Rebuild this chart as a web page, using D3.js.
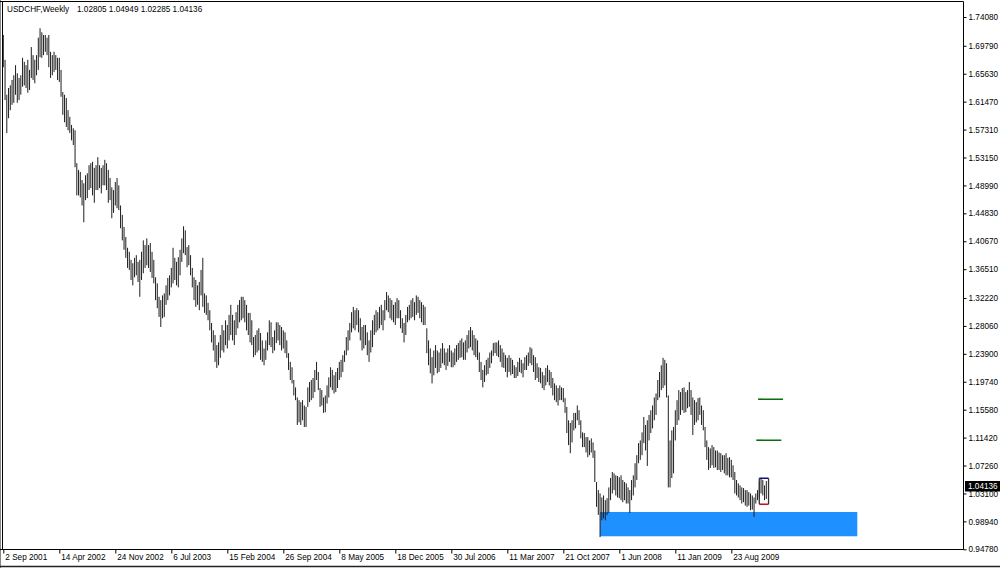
<!DOCTYPE html>
<html><head><meta charset="utf-8">
<script src="https://cdn.jsdelivr.net/npm/d3@7"></script>
<style>html,body{margin:0;padding:0;background:#fff;overflow:hidden}</style>
</head><body><svg id="c" width="1000" height="568"></svg>
<script>
// ---------- DATA ----------
const symbolName = "USDCHF,Weekly";
const lastOHLC = [1.02805, 1.04949, 1.02285, 1.04136];
const firstWeek = "2 Sep 2001";
const highs = [
1.714,1.677,1.625,1.635,1.639,1.647,1.654,1.669,1.657,1.650,
1.654,1.680,1.674,1.669,1.677,1.662,1.696,1.684,1.677,1.684,
1.710,1.724,1.718,1.714,1.714,1.710,1.714,1.689,1.684,1.689,
1.684,1.680,1.680,1.662,1.629,1.625,1.620,1.602,1.592,1.580,
1.575,1.572,1.523,1.513,1.510,1.498,1.493,1.505,1.508,1.520,
1.523,1.525,1.516,1.520,1.532,1.520,1.516,1.520,1.528,1.523,
1.513,1.501,1.487,1.483,1.495,1.501,1.490,1.460,1.446,1.428,
1.413,1.397,1.391,1.379,1.374,1.382,1.386,1.376,1.379,1.391,
1.408,1.401,1.411,1.401,1.404,1.391,1.379,1.353,1.344,1.324,
1.319,1.326,1.329,1.341,1.352,1.356,1.367,1.397,1.382,1.376,
1.383,1.394,1.411,1.429,1.423,1.398,1.401,1.386,1.367,1.353,
1.349,1.341,1.346,1.364,1.382,1.329,1.326,1.315,1.304,1.285,
1.274,1.267,1.252,1.256,1.267,1.282,1.274,1.289,1.282,1.297,
1.312,1.297,1.289,1.301,1.312,1.319,1.324,1.324,1.319,1.312,
1.300,1.300,1.289,1.264,1.267,1.274,1.277,1.270,1.259,1.247,
1.259,1.271,1.289,1.286,1.264,1.274,1.286,1.286,1.282,1.279,
1.274,1.271,1.259,1.240,1.227,1.219,1.200,1.189,1.174,1.170,
1.167,1.170,1.162,1.160,1.189,1.197,1.200,1.203,1.215,1.227,
1.212,1.188,1.185,1.174,1.177,1.192,1.204,1.219,1.215,1.207,
1.212,1.218,1.227,1.230,1.237,1.244,1.264,1.274,1.285,1.301,
1.309,1.304,1.307,1.304,1.292,1.279,1.282,1.282,1.271,1.259,
1.274,1.289,1.297,1.304,1.301,1.309,1.312,1.304,1.319,1.331,
1.326,1.322,1.319,1.312,1.316,1.322,1.319,1.304,1.292,1.285,
1.297,1.309,1.312,1.319,1.322,1.316,1.326,1.324,1.319,1.316,
1.312,1.309,1.277,1.259,1.247,1.234,1.244,1.252,1.244,1.241,
1.247,1.255,1.247,1.241,1.247,1.252,1.244,1.241,1.247,1.252,
1.255,1.259,1.262,1.256,1.259,1.267,1.274,1.279,1.274,1.267,
1.262,1.259,1.241,1.227,1.215,1.222,1.230,1.233,1.241,1.244,
1.255,1.256,1.256,1.259,1.252,1.247,1.241,1.237,1.233,1.237,
1.233,1.230,1.222,1.219,1.227,1.233,1.230,1.225,1.234,1.237,
1.241,1.249,1.247,1.237,1.234,1.225,1.219,1.218,1.212,1.207,
1.218,1.222,1.215,1.212,1.203,1.195,1.192,1.188,1.192,1.189,
1.188,1.173,1.160,1.140,1.136,1.140,1.151,1.151,1.162,1.155,
1.140,1.122,1.121,1.115,1.115,1.110,1.113,1.107,1.095,1.048,
1.036,1.031,1.025,1.028,1.021,1.024,1.040,1.054,1.063,1.061,
1.058,1.057,1.055,1.058,1.051,1.048,1.046,1.040,1.036,1.051,
1.058,1.076,1.088,1.106,1.110,1.122,1.145,1.133,1.140,1.148,
1.155,1.162,1.174,1.180,1.200,1.212,1.222,1.233,1.230,1.225,
1.177,1.110,1.125,1.130,1.155,1.170,1.185,1.182,1.188,1.189,
1.182,1.185,1.197,1.185,1.174,1.170,1.167,1.173,1.174,1.162,
1.155,1.130,1.110,1.100,1.098,1.103,1.100,1.095,1.095,1.092,
1.091,1.088,1.088,1.091,1.084,1.085,1.081,1.073,1.063,1.051,
1.046,1.043,1.040,1.039,1.036,1.036,1.033,1.031,1.028,1.025,
1.031,1.036,1.048,1.054,1.051,1.043,1.04949];
const lows = [
1.666,1.617,1.568,1.590,1.602,1.610,1.613,1.625,1.613,1.617,
1.625,1.637,1.639,1.635,1.628,1.632,1.650,1.647,1.642,1.654,
1.662,1.681,1.680,1.684,1.689,1.684,1.666,1.650,1.654,1.659,
1.662,1.647,1.644,1.622,1.595,1.584,1.577,1.572,1.568,1.557,
1.550,1.517,1.475,1.475,1.472,1.460,1.435,1.468,1.471,1.483,
1.486,1.475,1.464,1.483,1.483,1.486,1.478,1.490,1.490,1.483,
1.464,1.468,1.441,1.449,1.460,1.456,1.453,1.426,1.408,1.394,
1.382,1.367,1.364,1.349,1.341,1.353,1.356,1.346,1.324,1.349,
1.359,1.367,1.371,1.367,1.361,1.352,1.344,1.319,1.307,1.294,
1.279,1.292,1.294,1.312,1.319,1.326,1.338,1.344,1.349,1.341,
1.338,1.356,1.376,1.389,1.386,1.368,1.371,1.356,1.338,1.319,
1.309,1.312,1.304,1.326,1.309,1.300,1.297,1.289,1.274,1.256,
1.244,1.227,1.218,1.222,1.233,1.244,1.241,1.252,1.247,1.259,
1.267,1.259,1.252,1.267,1.277,1.286,1.289,1.292,1.286,1.274,
1.267,1.256,1.252,1.234,1.237,1.241,1.244,1.230,1.227,1.222,
1.230,1.244,1.252,1.249,1.240,1.244,1.255,1.259,1.252,1.244,
1.247,1.240,1.233,1.215,1.200,1.195,1.177,1.170,1.133,1.137,
1.133,1.140,1.130,1.130,1.160,1.167,1.170,1.173,1.182,1.200,
1.185,1.160,1.162,1.151,1.152,1.165,1.174,1.189,1.185,1.180,
1.182,1.188,1.200,1.204,1.212,1.227,1.237,1.244,1.259,1.271,
1.277,1.274,1.282,1.271,1.259,1.244,1.247,1.252,1.237,1.227,
1.241,1.249,1.267,1.271,1.274,1.277,1.282,1.274,1.289,1.304,
1.301,1.292,1.289,1.286,1.282,1.292,1.292,1.277,1.270,1.256,
1.267,1.286,1.289,1.292,1.294,1.289,1.297,1.300,1.292,1.286,
1.282,1.282,1.240,1.222,1.210,1.195,1.207,1.218,1.210,1.212,
1.218,1.225,1.222,1.215,1.221,1.227,1.219,1.219,1.222,1.227,
1.230,1.233,1.234,1.230,1.230,1.241,1.247,1.249,1.244,1.237,
1.234,1.230,1.212,1.200,1.189,1.197,1.207,1.209,1.218,1.225,
1.236,1.240,1.236,1.234,1.227,1.219,1.218,1.212,1.204,1.212,
1.207,1.209,1.203,1.203,1.206,1.212,1.210,1.204,1.215,1.215,
1.221,1.225,1.222,1.212,1.200,1.203,1.197,1.195,1.188,1.185,
1.192,1.197,1.192,1.188,1.177,1.170,1.167,1.162,1.170,1.170,
1.167,1.151,1.121,1.103,1.091,1.107,1.125,1.128,1.140,1.133,
1.113,1.100,1.100,1.092,1.085,1.088,1.092,1.084,1.048,1.011,
0.999,0.966,0.991,0.994,0.991,0.999,1.002,1.021,1.031,1.036,
1.028,1.025,1.024,1.021,1.018,1.021,1.016,1.016,1.002,1.021,
1.028,1.040,1.051,1.076,1.081,1.088,1.106,1.095,1.072,1.110,
1.121,1.128,1.140,1.148,1.170,1.174,1.185,1.188,1.192,1.174,
1.040,1.040,1.054,1.061,1.110,1.133,1.140,1.148,1.155,1.151,
1.152,1.158,1.160,1.148,1.118,1.133,1.137,1.140,1.148,1.133,
1.125,1.100,1.081,1.066,1.069,1.073,1.069,1.070,1.066,1.066,
1.063,1.066,1.061,1.058,1.058,1.055,1.055,1.051,1.031,1.028,
1.025,1.021,1.016,1.018,1.013,1.011,1.013,1.006,1.007,0.996,
1.016,1.021,1.025,1.031,1.028,1.021,1.02285];
const xTickLabels = ["2 Sep 2001","14 Apr 2002","24 Nov 2002","6 Jul 2003","15 Feb 2004","26 Sep 2004","8 May 2005","18 Dec 2005","30 Jul 2006","11 Mar 2007","21 Oct 2007","1 Jun 2008","11 Jan 2009","23 Aug 2009"];
const yTicks = [0.94780,0.98940,1.03100,1.07260,1.11420,1.15580,1.19740,1.23900,1.28060,1.32220,1.36510,1.40670,1.44830,1.48990,1.53150,1.57310,1.61470,1.65630,1.69790,1.74080];
const supportZone = {from:"16 Mar 2008", to:"9 Jan 2011", top:1.0034, bottom:0.9672};
const targetLines = [{from:"8 Dec 2009", to:"18 Mar 2010", price:1.1714},
                     {from:"1 Dec 2009", to:"11 Mar 2010", price:1.1103}];
const rangeBox = {from:"13 Dec 2009", to:"19 Jan 2010", top:1.0536, bottom:1.0149};

// ---------- CHART ----------
const parseDate = d3.utcParse("%d %b %Y");
const t0 = parseDate(firstWeek);
const bars = highs.map((h,i)=>({date:d3.utcDay.offset(t0, 7*i), high:h, low:lows[i]}));
const FONT = "Liberation Sans, Arial, sans-serif";
const svg = d3.select("#c");
const P = {left:2.5, right:963.5, top:1.5, bottom:549.5};

const x = d3.scaleUtc()
  .domain([parseDate(xTickLabels[0]), parseDate(xTickLabels[xTickLabels.length-1])])
  .range([3.3, 731.3]);
const y = d3.scaleLinear()
  .domain([yTicks[0], yTicks[yTicks.length-1]])
  .range([549.3, 17]);

svg.append("rect").attr("width",1000).attr("height",568).attr("fill","#fff");
svg.append("defs").append("clipPath").attr("id","clip")
  .append("rect").attr("x",P.left).attr("y",P.top).attr("width",P.right-P.left).attr("height",P.bottom-P.top);
const g = svg.append("g").attr("clip-path","url(#clip)");

// support zone
g.append("rect")
  .attr("x", x(parseDate(supportZone.from)))
  .attr("width", x(parseDate(supportZone.to)) - x(parseDate(supportZone.from)))
  .attr("y", y(supportZone.top))
  .attr("height", y(supportZone.bottom) - y(supportZone.top))
  .attr("fill","#1E90FF");

// bars
g.selectAll("line.bar").data(bars).join("line").attr("class","bar")
  .attr("x1", d=>x(d.date)).attr("x2", d=>x(d.date))
  .attr("y1", d=>y(d.high)).attr("y2", d=>y(d.low))
  .attr("stroke","#1e1e1e").attr("stroke-width",1);

// target lines
g.selectAll("line.tgt").data(targetLines).join("line").attr("class","tgt")
  .attr("x1", d=>x(parseDate(d.from))).attr("x2", d=>x(parseDate(d.to)))
  .attr("y1", d=>y(d.price)).attr("y2", d=>y(d.price))
  .attr("stroke","#0a6e0a").attr("stroke-width",1.6);

// range box
const bx1 = x(parseDate(rangeBox.from)), bx2 = x(parseDate(rangeBox.to));
const by1 = y(rangeBox.top), by2 = y(rangeBox.bottom);
g.append("line").attr("x1",bx1).attr("x2",bx1).attr("y1",by1).attr("y2",by2).attr("stroke","#333").attr("stroke-width",1.3);
g.append("line").attr("x1",bx2).attr("x2",bx2).attr("y1",by1).attr("y2",by2).attr("stroke","#333").attr("stroke-width",1.3);
g.append("line").attr("x1",bx1).attr("x2",bx2).attr("y1",by1).attr("y2",by1).attr("stroke","#101080").attr("stroke-width",1.6);
g.append("line").attr("x1",bx1).attr("x2",bx2).attr("y1",by2).attr("y2",by2).attr("stroke","#c0101a").attr("stroke-width",1.6);

// frame
svg.append("line").attr("x1",0.5).attr("x2",0.5).attr("y1",0).attr("y2",568).attr("stroke","#888");
svg.append("line").attr("x1",P.left).attr("x2",P.left).attr("y1",P.top).attr("y2",P.bottom).attr("stroke","#000");
svg.append("line").attr("x1",0).attr("x2",P.right).attr("y1",P.top).attr("y2",P.top).attr("stroke","#000");
svg.append("line").attr("x1",P.right).attr("x2",P.right).attr("y1",P.top).attr("y2",P.bottom).attr("stroke","#000");
svg.append("line").attr("x1",0).attr("x2",P.right).attr("y1",P.bottom).attr("y2",P.bottom).attr("stroke","#000");
svg.append("line").attr("x1",0).attr("x2",1000).attr("y1",566.5).attr("y2",566.5).attr("stroke","#222").attr("stroke-width",1.5);

// y axis
const ya = svg.append("g").attr("transform",`translate(${P.right},0)`)
  .call(d3.axisRight(y).tickValues(yTicks).tickFormat(d3.format(".5f")).tickSize(3).tickPadding(2));
ya.select(".domain").remove();
ya.selectAll("text").attr("font-family",FONT).attr("font-size","8.2px").attr("fill","#000");
ya.selectAll("line").attr("stroke","#000");

// x axis
const xa = svg.append("g").attr("transform",`translate(0,${P.bottom})`)
  .call(d3.axisBottom(x).tickValues(xTickLabels.map(parseDate)).tickFormat((d,i)=>xTickLabels[i]).tickSize(4).tickPadding(1));
xa.select(".domain").remove();
xa.selectAll("text").attr("font-family",FONT).attr("font-size","8.2px").attr("fill","#000")
  .attr("text-anchor","start").attr("x",1.5);
xa.selectAll("line").attr("stroke","#000");

// current price label
const lp = lastOHLC[3];
svg.append("rect").attr("x",965).attr("y",y(lp)-5.5).attr("width",35).attr("height",10.5).attr("fill","#000");
svg.append("text").attr("x",968).attr("y",y(lp)).attr("dy","0.35em")
  .attr("font-family",FONT).attr("font-size","8.2px").attr("fill","#fff").text(d3.format(".5f")(lp));

// title
svg.append("text").attr("x",7).attr("y",12).attr("font-family",FONT).attr("font-size","8.2px").attr("fill","#000").text(symbolName);
svg.append("text").attr("x",77).attr("y",12).attr("font-family",FONT).attr("font-size","8.2px").attr("fill","#000")
  .text(lastOHLC.map(d3.format(".5f")).join(" "));
</script></body></html>
